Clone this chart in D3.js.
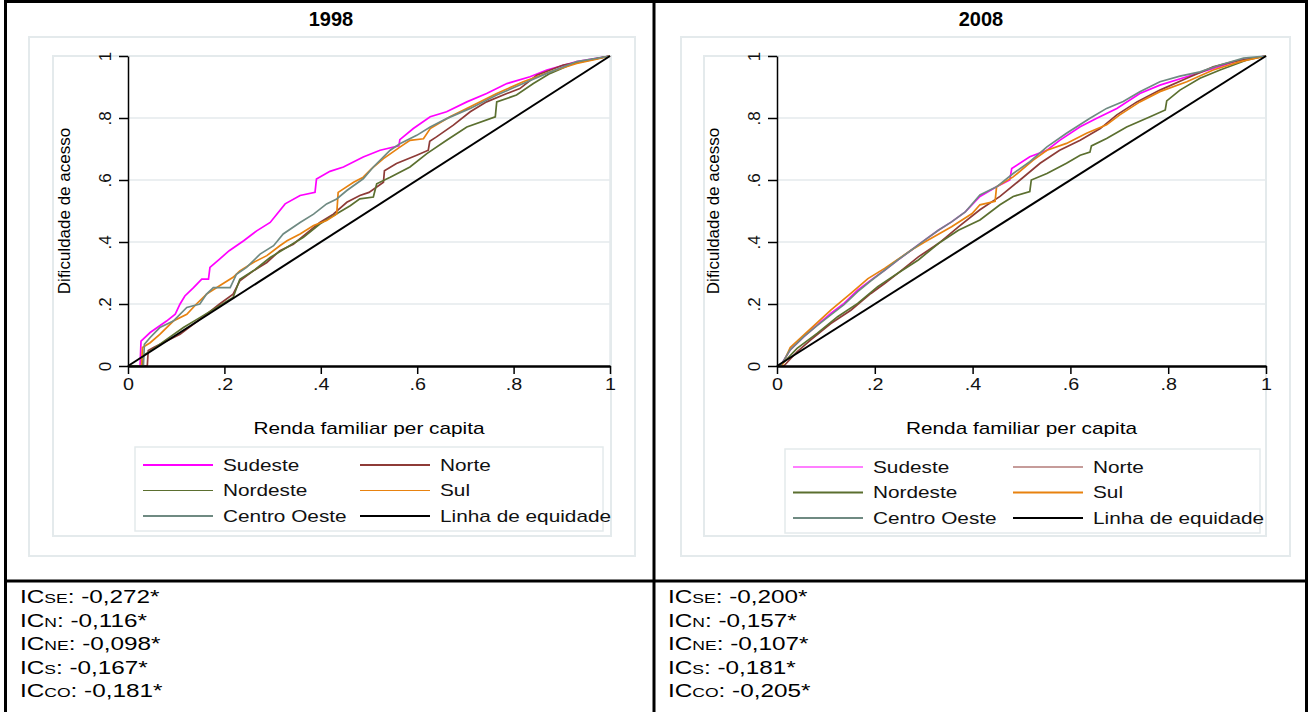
<!DOCTYPE html>
<html>
<head>
<meta charset="utf-8">
<script src="https://cdn.jsdelivr.net/npm/d3@7"></script>
<style>
  body { margin: 0; background: #fff; }
  svg { font-family: "Liberation Sans", Arial, sans-serif; }
</style>
</head>
<body>
<svg id="chart" width="1309" height="712"></svg>
<script>
// Concentration curves: [renda, dificuldade]
const sudeste1998 = [[0,0],[0.025,0],[0.027,0.08],[0.046,0.108],[0.08,0.145],[0.098,0.167],[0.108,0.2],[0.118,0.226],[0.136,0.253],[0.153,0.28],[0.167,0.28],[0.17,0.318],[0.19,0.345],[0.21,0.372],[0.24,0.404],[0.267,0.436],[0.295,0.463],[0.326,0.523],[0.357,0.55],[0.388,0.56],[0.391,0.603],[0.419,0.628],[0.447,0.642],[0.488,0.674],[0.523,0.696],[0.562,0.71],[0.564,0.73],[0.592,0.766],[0.627,0.804],[0.661,0.82],[0.703,0.852],[0.744,0.879],[0.786,0.911],[0.834,0.933],[0.869,0.955],[0.931,0.982],[1,1]];
const norte1998 = [[0,0],[0.04,0],[0.042,0.05],[0.053,0.06],[0.08,0.081],[0.108,0.102],[0.136,0.135],[0.163,0.167],[0.19,0.2],[0.218,0.232],[0.232,0.275],[0.26,0.307],[0.288,0.334],[0.315,0.372],[0.343,0.393],[0.364,0.42],[0.398,0.463],[0.426,0.49],[0.454,0.528],[0.481,0.55],[0.5,0.56],[0.53,0.593],[0.532,0.63],[0.557,0.653],[0.599,0.68],[0.623,0.696],[0.626,0.725],[0.64,0.739],[0.675,0.777],[0.71,0.82],[0.744,0.852],[0.786,0.879],[0.813,0.895],[0.848,0.938],[0.903,0.971],[1,1]];
const nordeste1998 = [[0,0],[0.03,0],[0.032,0.035],[0.046,0.048],[0.08,0.086],[0.115,0.124],[0.149,0.156],[0.184,0.189],[0.218,0.221],[0.232,0.28],[0.26,0.307],[0.295,0.35],[0.33,0.383],[0.364,0.415],[0.398,0.458],[0.426,0.485],[0.461,0.517],[0.481,0.539],[0.509,0.545],[0.516,0.588],[0.544,0.609],[0.585,0.642],[0.62,0.685],[0.661,0.728],[0.703,0.771],[0.762,0.804],[0.765,0.852],[0.806,0.874],[0.841,0.911],[0.876,0.944],[0.924,0.976],[1,1]];
const sul1998 = [[0,0],[0.028,0],[0.03,0.06],[0.046,0.075],[0.066,0.102],[0.094,0.145],[0.122,0.167],[0.142,0.2],[0.163,0.232],[0.19,0.259],[0.218,0.286],[0.232,0.307],[0.26,0.334],[0.288,0.356],[0.315,0.388],[0.33,0.404],[0.357,0.426],[0.385,0.453],[0.412,0.469],[0.433,0.49],[0.436,0.56],[0.468,0.593],[0.488,0.609],[0.505,0.636],[0.53,0.669],[0.564,0.706],[0.585,0.728],[0.613,0.733],[0.627,0.766],[0.668,0.804],[0.71,0.836],[0.765,0.879],[0.82,0.917],[0.876,0.949],[0.931,0.976],[0.972,0.99],[1,1]];
const centroOeste1998 = [[0,0],[0.032,0],[0.034,0.07],[0.046,0.092],[0.066,0.124],[0.094,0.145],[0.122,0.189],[0.149,0.2],[0.163,0.232],[0.177,0.253],[0.212,0.253],[0.225,0.296],[0.246,0.318],[0.274,0.361],[0.302,0.388],[0.322,0.426],[0.357,0.463],[0.385,0.49],[0.412,0.523],[0.433,0.539],[0.454,0.566],[0.488,0.604],[0.509,0.642],[0.544,0.696],[0.564,0.717],[0.599,0.744],[0.627,0.771],[0.661,0.798],[0.71,0.831],[0.765,0.874],[0.82,0.911],[0.869,0.944],[0.931,0.982],[1,1]];

const sudeste2008 = [[0,0],[0.007,0],[0.027,0.052],[0.055,0.095],[0.082,0.132],[0.11,0.17],[0.137,0.202],[0.165,0.245],[0.192,0.277],[0.22,0.309],[0.247,0.342],[0.275,0.374],[0.302,0.406],[0.33,0.438],[0.357,0.465],[0.385,0.497],[0.415,0.547],[0.449,0.578],[0.476,0.6],[0.48,0.637],[0.517,0.675],[0.552,0.696],[0.578,0.728],[0.62,0.772],[0.654,0.799],[0.695,0.831],[0.742,0.879],[0.783,0.906],[0.838,0.933],[0.892,0.96],[0.947,0.987],[1,1]];
const norte2008 = [[0,0],[0.014,0],[0.041,0.046],[0.069,0.084],[0.11,0.137],[0.151,0.18],[0.192,0.234],[0.22,0.266],[0.247,0.299],[0.289,0.352],[0.33,0.395],[0.371,0.449],[0.415,0.504],[0.456,0.547],[0.497,0.6],[0.538,0.654],[0.578,0.696],[0.62,0.728],[0.661,0.766],[0.695,0.81],[0.736,0.852],[0.783,0.89],[0.838,0.928],[0.892,0.965],[0.933,0.982],[1,1]];
const nordeste2008 = [[0,0],[0.007,0],[0.041,0.057],[0.082,0.105],[0.124,0.159],[0.165,0.202],[0.206,0.256],[0.247,0.299],[0.289,0.342],[0.33,0.395],[0.371,0.438],[0.415,0.471],[0.456,0.52],[0.483,0.547],[0.517,0.563],[0.52,0.6],[0.552,0.621],[0.592,0.654],[0.62,0.68],[0.64,0.69],[0.643,0.71],[0.674,0.734],[0.715,0.771],[0.763,0.804],[0.794,0.826],[0.797,0.855],[0.824,0.89],[0.865,0.928],[0.906,0.955],[0.961,0.987],[1,1]];
const sul2008 = [[0,0],[0.01,0],[0.027,0.06],[0.055,0.1],[0.11,0.18],[0.151,0.234],[0.186,0.282],[0.22,0.315],[0.275,0.374],[0.302,0.4],[0.357,0.449],[0.399,0.492],[0.415,0.52],[0.446,0.531],[0.449,0.578],[0.483,0.61],[0.524,0.664],[0.552,0.696],[0.592,0.718],[0.633,0.751],[0.674,0.778],[0.701,0.81],[0.742,0.852],[0.783,0.885],[0.838,0.917],[0.892,0.955],[0.947,0.982],[1,1]];
const centroOeste2008 = [[0,0],[0.007,0],[0.027,0.052],[0.055,0.095],[0.082,0.13],[0.11,0.165],[0.137,0.198],[0.165,0.24],[0.192,0.275],[0.22,0.309],[0.247,0.342],[0.275,0.374],[0.302,0.406],[0.33,0.438],[0.357,0.465],[0.385,0.497],[0.415,0.552],[0.449,0.578],[0.483,0.621],[0.517,0.659],[0.552,0.707],[0.592,0.751],[0.64,0.799],[0.674,0.831],[0.708,0.853],[0.742,0.885],[0.783,0.917],[0.824,0.935],[0.865,0.949],[0.906,0.971],[0.954,0.993],[1,1]];
const equidade = [[0,0],[1,1]];

const regions = ["Sudeste", "Norte", "Nordeste", "Sul", "Centro Oeste", "Linha de equidade"];
const colors = ["#ff00ff", "#8e3b37", "#5b6f2f", "#e8820f", "#6f8a82", "#000000"];
const ticks = [0, 0.2, 0.4, 0.6, 0.8, 1];

const years = ["1998", "2008"];
const series1998 = [sudeste1998, norte1998, nordeste1998, sul1998, centroOeste1998, equidade];
const series2008 = [sudeste2008, norte2008, nordeste2008, sul2008, centroOeste2008, equidade];
const widths1998 = [2, 2, 1.2, 1.2, 2, 2];
const widths2008 = [1.2, 1.2, 2, 2, 2, 2];

const icLabels = ["SE", "N", "NE", "S", "CO"];
const ic1998 = ["-0,272*", "-0,116*", "-0,098*", "-0,167*", "-0,181*"];
const ic2008 = ["-0,200*", "-0,157*", "-0,107*", "-0,181*", "-0,205*"];

const svg = d3.select("#chart");
const frameColor = "#e4eaec";
const stretch = 1.3; // the text in the picture is wide

// table lines
svg.append("rect").attr("x", 5.5).attr("y", 1.5).attr("width", 1301).attr("height", 720)
  .attr("fill", "none").attr("stroke", "#000").attr("stroke-width", 3);
svg.append("line").attr("x1", 654).attr("x2", 654).attr("y1", 0).attr("y2", 712)
  .attr("stroke", "#000").attr("stroke-width", 3);
svg.append("line").attr("x1", 5).attr("x2", 1307).attr("y1", 581).attr("y2", 581)
  .attr("stroke", "#000").attr("stroke-width", 3);

const fmt = d => d === 0 ? "0" : d === 1 ? "1" : d3.format(".1f")(d).replace("0.", ".");

function drawPanel(p) {
  const g = svg.append("g");
  g.append("rect").attr("x", p.outer[0]).attr("y", p.outer[1]).attr("width", p.outer[2]).attr("height", p.outer[3])
    .attr("fill", "none").attr("stroke", frameColor).attr("stroke-width", 2);
  g.append("rect").attr("x", p.inner[0]).attr("y", p.inner[1]).attr("width", p.inner[2]).attr("height", p.inner[3])
    .attr("fill", "none").attr("stroke", frameColor).attr("stroke-width", 2);

  g.append("text").attr("x", p.titleX).attr("y", 26).attr("text-anchor", "middle")
    .style("font-size", "20px").style("font-weight", "bold").text(p.year);

  const x = d3.scaleLinear().domain([0, 1]).range([p.x0, p.x1]);
  const y = d3.scaleLinear().domain([0, 1]).range([p.y0, p.y1]);

  // grid
  g.append("g").selectAll("line").data(ticks.slice(1)).join("line")
    .attr("x1", p.x0).attr("x2", p.x1).attr("y1", d => y(d)).attr("y2", d => y(d))
    .attr("stroke", frameColor).attr("stroke-width", 1.5);
  g.append("line").attr("x1", p.x1).attr("x2", p.x1).attr("y1", p.y1).attr("y2", p.y0)
    .attr("stroke", frameColor).attr("stroke-width", 1.5);

  const line = d3.line().x(d => x(d[0])).y(d => y(d[1]));
  g.append("g").selectAll("path").data(p.series).join("path")
    .attr("d", d => line(d)).attr("fill", "none")
    .attr("stroke", (d, i) => colors[i]).attr("stroke-width", (d, i) => i === 5 ? 2 : 1.7);

  const xAxis = d3.axisBottom(x).tickValues(ticks).tickFormat(fmt).tickSize(8).tickSizeOuter(0).tickPadding(5);
  const gx = g.append("g").attr("transform", `translate(0,${p.y0})`).call(xAxis);
  gx.select(".domain").attr("stroke-width", 2.5);
  gx.selectAll(".tick line").attr("stroke-width", 1.5);
  gx.selectAll("text").style("font-size", "16px").attr("fill", "#111")
    .attr("transform", `scale(${stretch * 0.95},1)`);

  const yAxis = d3.axisLeft(y).tickValues(ticks).tickFormat(fmt).tickSize(9).tickSizeOuter(0);
  const gy = g.append("g").attr("transform", `translate(${p.x0},0)`).call(yAxis);
  gy.select(".domain").attr("stroke-width", 1.5);
  gy.selectAll(".tick line").attr("stroke-width", 1.5);
  gy.selectAll("text").style("font-size", "17px").attr("fill", "#111")
    .attr("text-anchor", "middle").attr("x", 0).attr("dy", 0)
    .attr("transform", "translate(-17,0) rotate(-90)");

  g.append("text").attr("transform", `translate(${p.x0 - 58},${(p.y0 + p.y1) / 2}) rotate(-90)`)
    .attr("text-anchor", "middle").style("font-size", "17px").text("Dificuldade de acesso");
  g.append("text").attr("transform", `translate(${(p.x0 + p.x1) / 2},434) scale(${stretch},1)`)
    .attr("text-anchor", "middle").style("font-size", "16px").text("Renda familiar per capita");

  // legend
  const lg = g.append("g");
  lg.append("rect").attr("x", p.legend[0]).attr("y", p.legend[1]).attr("width", p.legend[2]).attr("height", p.legend[3])
    .attr("fill", "none").attr("stroke", frameColor).attr("stroke-width", 1.5);
  const items = lg.selectAll("g").data(regions).join("g")
    .attr("transform", (d, i) => `translate(${p.legend[0] + 8 + (i % 2) * p.colW},${p.legend[1] + 18 + Math.floor(i / 2) * 25.5})`);
  items.append("line").attr("x1", 0).attr("x2", 70).attr("stroke", (d, i) => colors[i])
    .attr("stroke-width", (d, i) => p.widths[i]);
  items.append("text").attr("transform", `translate(80,0) scale(${stretch},1)`).attr("dy", "0.35em")
    .style("font-size", "16px").attr("fill", "#111").text(d => d);

  // concentration indices
  const ic = svg.append("g").selectAll("text").data(icLabels).join("text")
    .attr("transform", (d, i) => `translate(${p.icX},${603 + i * 23.5}) scale(1.35,1)`).style("font-size", "18px");
  ic.append("tspan").text("IC");
  ic.append("tspan").style("font-size", "13px").text(d => d);
  ic.append("tspan").text((d, i) => ": " + p.ic[i]);
}

drawPanel({ year: years[0], titleX: 331, series: series1998, widths: widths1998, ic: ic1998, icX: 20,
  x0: 128, x1: 610, y0: 366, y1: 56,
  outer: [29, 37, 606, 519], inner: [53, 56, 558, 480],
  legend: [135, 447, 468, 84], colW: 217 });
drawPanel({ year: years[1], titleX: 981, series: series2008, widths: widths2008, ic: ic2008, icX: 668,
  x0: 777, x1: 1266, y0: 366, y1: 56,
  outer: [681, 37, 609, 519], inner: [704, 56, 562, 480],
  legend: [785, 449, 475, 84], colW: 220 });
</script>
</body>
</html>
